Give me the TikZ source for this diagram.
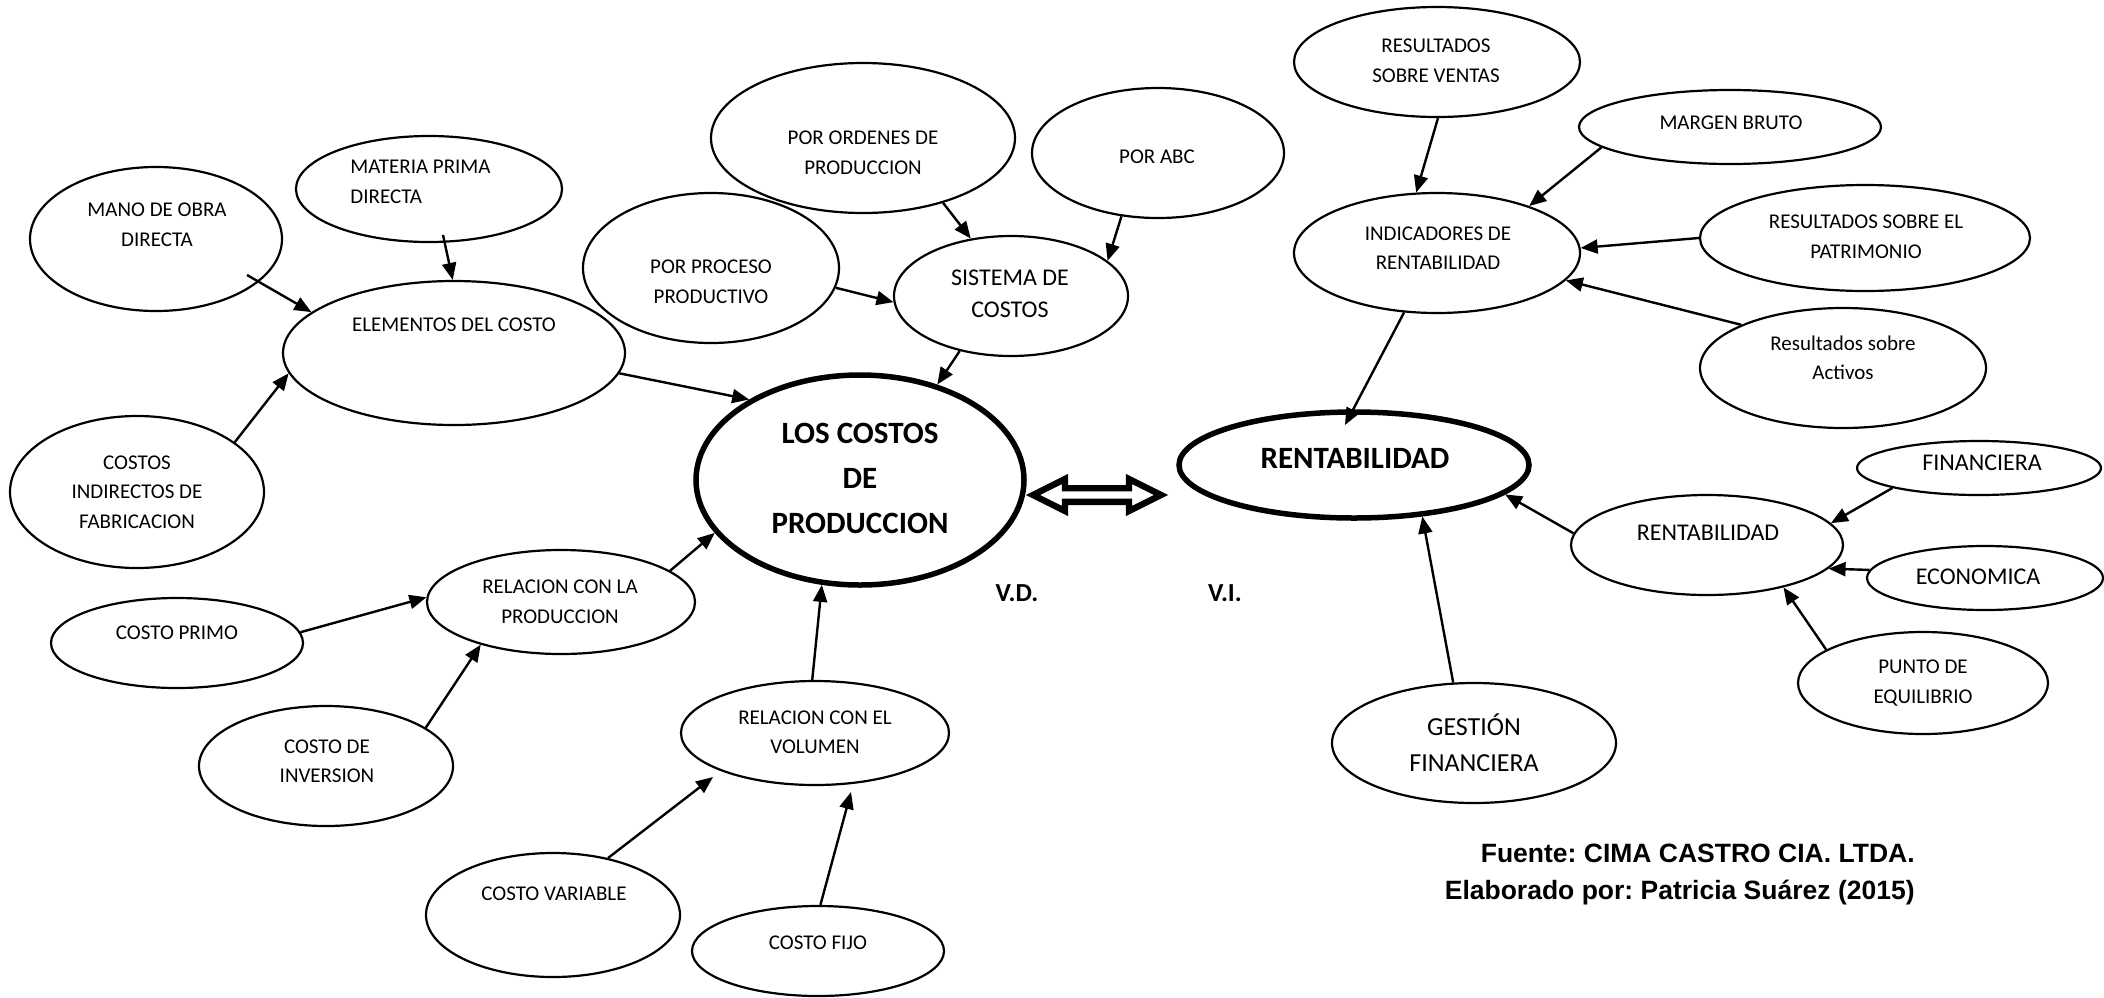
\documentclass[tikz,border=0pt]{standalone}
\usepackage{fontspec}
\setmainfont{Carlito}
\newfontfamily\arialfont{Liberation Sans}
\usetikzlibrary{shapes.geometric,arrows.meta,calc}
\frenchspacing
\begin{document}
\begin{tikzpicture}[x=0.5pt,y=-0.5pt,
  bub/.style={ellipse, draw, line width=1.1pt, inner sep=0pt},
  mainbub/.style={ellipse, draw, line width=2.75pt, inner sep=0pt},
  sz/.style 2 args={minimum width=#1pt, minimum height=#2pt},
  txt/.style={font=\fontsize{10.5}{14.75}\selectfont, align=center, inner sep=0pt},
  txtm/.style={font=\fontsize{12}{16}\selectfont, align=center, inner sep=0pt},
  txtl/.style={font=\fontsize{13}{18}\selectfont, align=center, inner sep=0pt},
  txtb/.style={font=\fontsize{15.5}{22.5}\selectfont\bfseries, align=center, inner sep=0pt},
  vlab/.style={font=\fontsize{13}{16}\selectfont\bfseries, inner sep=0pt},
  arr/.style={line width=1.2pt, -{Triangle[length=8.5pt,width=7pt]}},
]
\fill[white] (0,0) rectangle (2104,997);
\useasboundingbox (0,0) rectangle (2104,997);

% ---- central nodes
\node[mainbub, sz={164}{105}] (main) at (860,480) {};
\node[txtb] (mainT) at (860,478) {LOS COSTOS\\DE\\PRODUCCION};
\node[mainbub, sz={175}{53}] (rent) at (1354,465) {};
\node[txtb] (rentT) at (1355,458) {RENTABILIDAD};

% ---- cost elements
\node[bub, sz={126}{72}] (mano) at (156,239) {};
\node[txt] (manoT) at (157,225) {MANO DE OBRA\\DIRECTA};
\node[bub, sz={133}{53}] (materia) at (429,189) {};
\node[txt, align=left, anchor=west] (materiaT) at (350,182) {MATERIA PRIMA\\DIRECTA};
\node[bub, sz={171}{72}] (elem) at (454,353) {};
\node[txt] (elemT) at (454,325) {ELEMENTOS DEL COSTO};
\node[bub, sz={127}{76}] (cind) at (137,492) {};
\node[txt] (cindT) at (137,492) {COSTOS\\INDIRECTOS DE\\FABRICACION};

% ---- costing systems
\node[bub, sz={152}{75}] (ordenes) at (863,138) {};
\node[txt] (ordenesT) at (863,153) {POR ORDENES DE\\PRODUCCION};
\node[bub, sz={126}{65}] (abc) at (1158,153) {};
\node[txt] (abcT) at (1157,157) {POR ABC};
\node[bub, sz={128}{75}] (proceso) at (711,268) {};
\node[txt] (procesoT) at (711,282) {POR PROCESO\\PRODUCTIVO};
\node[bub, sz={117}{60}] (sistema) at (1011,296) {};
\node[txtm] (sistemaT) at (1010,294) {SISTEMA DE\\COSTOS};

% ---- relation with production
\node[bub, sz={126}{45}] (primo) at (177,643) {};
\node[txt] (primoT) at (177,633) {COSTO PRIMO};
\node[bub, sz={134}{52}] (relprod) at (561,602) {};
\node[txt] (relprodT) at (560,602) {RELACION CON LA\\PRODUCCION};
\node[bub, sz={127}{60}] (inversion) at (326,766) {};
\node[txt] (inversionT) at (327,761) {COSTO DE\\INVERSION};

% ---- relation with volume
\node[bub, sz={134}{52}] (relvol) at (815,733) {};
\node[txt] (relvolT) at (815,732) {RELACION CON EL\\VOLUMEN};
\node[bub, sz={127}{62}] (variable) at (553,915) {};
\node[txt] (variableT) at (554,894) {COSTO VARIABLE};
\node[bub, sz={126}{45}] (fijo) at (818,951) {};
\node[txt] (fijoT) at (818,943) {COSTO FIJO};

% ---- profitability indicators
\node[bub, sz={143}{55}] (ventas) at (1437,62) {};
\node[txt] (ventasT) at (1436,61) {RESULTADOS\\SOBRE VENTAS};
\node[bub, sz={151}{37}] (margen) at (1730,127) {};
\node[txt] (margenT) at (1731,123) {MARGEN BRUTO};
\node[bub, sz={143}{60}] (ind) at (1437,253) {};
\node[txt] (indT) at (1438,248) {INDICADORES DE\\RENTABILIDAD};
\node[bub, sz={165}{53}] (patrimonio) at (1865,238) {};
\node[txt] (patrimonioT) at (1866,237) {RESULTADOS SOBRE EL\\PATRIMONIO};
\node[bub, sz={143}{60}] (activos) at (1843,368) {};
\node[txt] (activosT) at (1843,358) {Resultados sobre\\Activos};

% ---- profitability types
\node[bub, sz={122}{27}] (fin) at (1979,468) {};
\node[txtm] (finT) at (1982,463) {FINANCIERA};
\node[bub, sz={136}{50}] (rent2) at (1707,545) {};
\node[txtm] (rent2T) at (1708,533) {RENTABILIDAD};
\node[bub, sz={118}{32}] (eco) at (1985,578) {};
\node[txtm] (ecoT) at (1978,577) {ECONOMICA};
\node[bub, sz={125}{51}] (punto) at (1923,683) {};
\node[txt] (puntoT) at (1923,683) {PUNTO DE\\EQUILIBRIO};
\node[bub, sz={142}{60}] (gestion) at (1474,743) {};
\node[txtl] (gestionT) at (1474,743) {GESTIÓN\\FINANCIERA};

% ---- variable labels and source note
\node[vlab] (vd) at (1017,593) {V.D.};
\node[vlab] (vi) at (1225,593) {V.I.};
\node[font=\arialfont\fontsize{13.25}{18.5}\selectfont\bfseries, align=right, anchor=east, inner sep=0pt]
  (fuente) at (1915,874) {Fuente: CIMA CASTRO CIA. LTDA.\\Elaborado por: Patricia Suárez (2015)};

% ---- two-headed block arrow between the two main concepts
\coordinate (dbl) at (1097,495);
\begin{scope}[shift={(dbl)}]
  \draw[line width=3.2pt, fill=white, line join=miter]
    (-64,0) -- (-32,-16) -- (-32,-6.8) -- (32,-6.8) -- (32,-16) -- (64,0)
    -- (32,16) -- (32,6.8) -- (-32,6.8) -- (-32,16) -- cycle;
\end{scope}

% ---- connectors
\draw[arr] ($(mano)+(91,36)$) -- (elem.164);
\draw[arr] ($(materia)+(14,46)$) -- (elem.91);
\draw[arr] (cind.27) -- (elem.187);
\draw[arr] (elem.-7) -- (main.144);
\draw[arr] (proceso.-9) -- (sistema.183);
\draw[arr] (ordenes.-39) -- (sistema.125);
\draw[arr] (abc.240) -- (sistema.20);
\draw[arr] (sistema.227) -- (main.51);
\draw[arr] (primo.5) -- (relprod.178);
\draw[arr] (inversion.21) -- (relprod.208);
\draw[arr] (relprod.16) -- (main.200);
\draw[arr] (relvol.93) -- (main.250);
\draw[arr] (variable.46) -- ($(relvol)+(-102,44)$);
\draw[arr] (fijo.87) -- ($(relvol)+(36,59)$);
\draw[arr] (ventas.-89) -- (ind.109);
\draw[arr] (margen.189) -- (ind.27);
\draw[arr] (patrimonio.180) -- (ind.2);
\draw[arr] (activos.157) -- (ind.-12);
\draw[arr] (ind.241) -- ($(rent)+(-9,-40)$);
\draw[arr] (rent2.175) -- (rent.-11);
\draw[arr] (gestion.109) -- (rent.-37);
\draw[arr] (fin.193) -- (rent2.10);
\draw[arr] (eco.176) -- (rent2.-11);
\draw[arr] (punto.161) -- (rent2.-29);
\end{tikzpicture}
\end{document}
